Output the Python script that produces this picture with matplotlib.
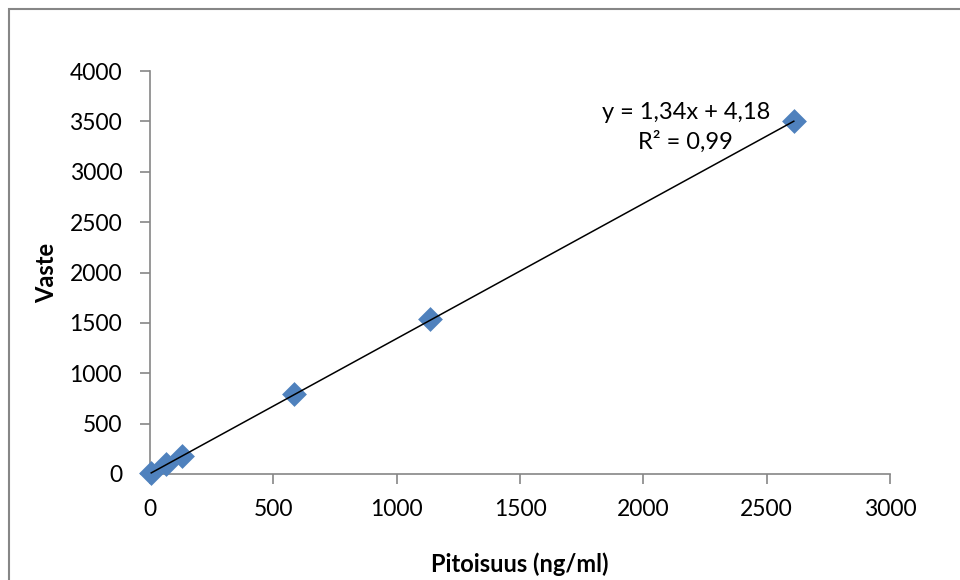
import matplotlib.pyplot as plt
from matplotlib.patches import Rectangle

# Calibration data
pitoisuus = [5, 65, 128, 585, 1135, 2610]
vaste = [10, 95, 180, 790, 1535, 3505]
slope = 1.34
intercept = 4.18
r2 = 0.99

x_ticks = [0, 500, 1000, 1500, 2000, 2500, 3000]
y_ticks = [0, 500, 1000, 1500, 2000, 2500, 3000, 3500, 4000]

plt.rcParams['font.family'] = ['Lato', 'DejaVu Sans']
grey = '#868686'

fig = plt.figure(figsize=(9.6, 5.8), dpi=100)
ax = fig.add_axes([150 / 960, 106 / 580, 740 / 960, 403 / 580])

# outer chart border (runs off the right and bottom edges)
fig.patches.append(Rectangle((9 / 960, -0.1), 1.2, 1.1 - 9 / 580, transform=fig.transFigure,
                             fill=False, edgecolor=grey, linewidth=1.5))

ax.scatter(pitoisuus, vaste, marker='D', s=160, color='#4F81BD', zorder=2,
           linewidths=0, clip_on=False)
fit_x = [min(pitoisuus), max(pitoisuus)]
fit_y = [slope * v + intercept for v in fit_x]
ax.plot(fit_x, fit_y, color='black', linewidth=1.1, zorder=3, clip_on=False)

ax.set_xlim(0, 3000)
ax.set_ylim(0, 4000)
ax.set_xticks(x_ticks)
ax.set_yticks(y_ticks)
for side in ['top', 'right']:
    ax.spines[side].set_visible(False)
for side in ['left', 'bottom']:
    ax.spines[side].set_color(grey)
    ax.spines[side].set_linewidth(1.2)
    ax.spines[side].set_zorder(1)
ax.tick_params(direction='out', length=7, width=1.2, color=grey, labelsize=16.5)
ax.tick_params(axis='x', pad=11)
ax.tick_params(axis='y', pad=13)

ax.set_xlabel('Pitoisuus (ng/ml)', fontsize=17, fontweight='bold', labelpad=23)
ax.set_ylabel('Vaste', fontsize=17, fontweight='bold', labelpad=8)

eq = f'y = {slope:.2f}x + {intercept:.2f}'.replace('.', ',')
r2_text = f'R² = {r2:.2f}'.replace('.', ',')
ax.text(0.724, 0.86, eq + '\n' + r2_text, transform=ax.transAxes, ha='center', va='center',
        fontsize=17, linespacing=1.45)

fig.savefig('out.png', dpi=100)
